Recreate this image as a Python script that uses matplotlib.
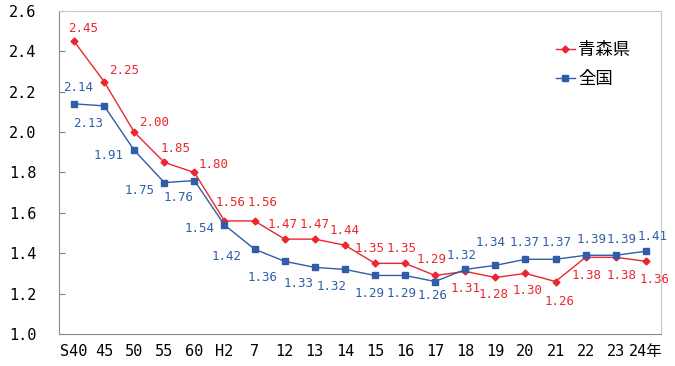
import matplotlib
matplotlib.use("Agg")
import matplotlib.pyplot as plt

plt.rcParams['font.family'] = ['DejaVu Sans Mono', 'Noto Sans CJK JP']

years = ["S40", "45", "50", "55", "60", "H2", "7", "12", "13", "14",
         "15", "16", "17", "18", "19", "20", "21", "22", "23", "24年"]
aomori = [2.45, 2.25, 2.00, 1.85, 1.80, 1.56, 1.56, 1.47, 1.47, 1.44,
          1.35, 1.35, 1.29, 1.31, 1.28, 1.30, 1.26, 1.38, 1.38, 1.36]
zenkoku = [2.14, 2.13, 1.91, 1.75, 1.76, 1.54, 1.42, 1.36, 1.33, 1.32,
           1.29, 1.29, 1.26, 1.32, 1.34, 1.37, 1.37, 1.39, 1.39, 1.41]

# label offsets in pixels (dx, dy) with dy positive = down
red_off = [(9, -13), (20, -11), (20, -10), (11, -14), (19, -8), (6, -18), (8, -18),
           (-2, -15), (0, -15), (0, -15), (-5, -15), (-4, -15), (-4, -16),
           (0, 17), (-2, 17), (2, 17), (4, 20), (1, 18), (6, 18), (9, 18)]
blue_off = [(4, -16), (-16, 18), (-26, 5), (-25, 8), (-16, 17), (-25, 4), (-28, 7),
            (-22, 16), (-16, 16), (-13, 17), (-5, 18), (-4, 18), (-3, 14),
            (-4, -14), (-5, -23), (-1, -17), (1, -17), (6, -16), (6, -16), (7, -15)]

RED = "#EB2630"
BLUE = "#2F5DA8"

fig = plt.figure(figsize=(6.75, 3.66), dpi=100)
ax = fig.add_axes([0.0874, 0.0874, 0.979 - 0.0874, 0.970 - 0.0874])

x = list(range(len(years)))
ax.plot(x, aomori, color=RED, lw=1.0, marker="D", ms=3.5, label="青森県")
ax.plot(x, zenkoku, color=BLUE, lw=1.0, marker="s", ms=5, label="全国")

for i, v in enumerate(aomori):
    dx, dy = red_off[i]
    ax.annotate(f"{v:.2f}", (i, v), xytext=(dx, -dy), textcoords="offset pixels",
                ha="center", va="center", color=RED, fontsize=9)
for i, v in enumerate(zenkoku):
    dx, dy = blue_off[i]
    ax.annotate(f"{v:.2f}", (i, v), xytext=(dx, -dy), textcoords="offset pixels",
                ha="center", va="center", color=BLUE, fontsize=9)

ax.set_xlim(-0.5, len(years) - 0.5)
ax.set_ylim(1.0, 2.6)
ax.set_yticks([1.0, 1.2, 1.4, 1.6, 1.8, 2.0, 2.2, 2.4, 2.6])
ax.set_yticklabels([f"{t:.1f}" for t in ax.get_yticks()], fontsize=11)
ax.set_xticks(x)
ax.set_xticklabels(years, fontsize=11)
ax.tick_params(axis="x", length=0, pad=7)
ax.tick_params(axis="y", direction="in", length=4, color="#808080", pad=36)
for t in ax.get_yticklabels():
    t.set_horizontalalignment("left")

ax.spines["left"].set_color("#8C8C8C")
ax.spines["bottom"].set_color("#8C8C8C")
ax.spines["top"].set_color("#C8C8C8")
ax.spines["right"].set_color("#C8C8C8")

ax.legend(loc="upper left", bbox_to_anchor=(0.812, 0.934), frameon=False,
          borderpad=0, prop={"family": "Noto Sans CJK JP", "size": 12.5},
          handlelength=1.05, handletextpad=0.2, labelspacing=0.65)

fig.savefig("out.png", dpi=100)
